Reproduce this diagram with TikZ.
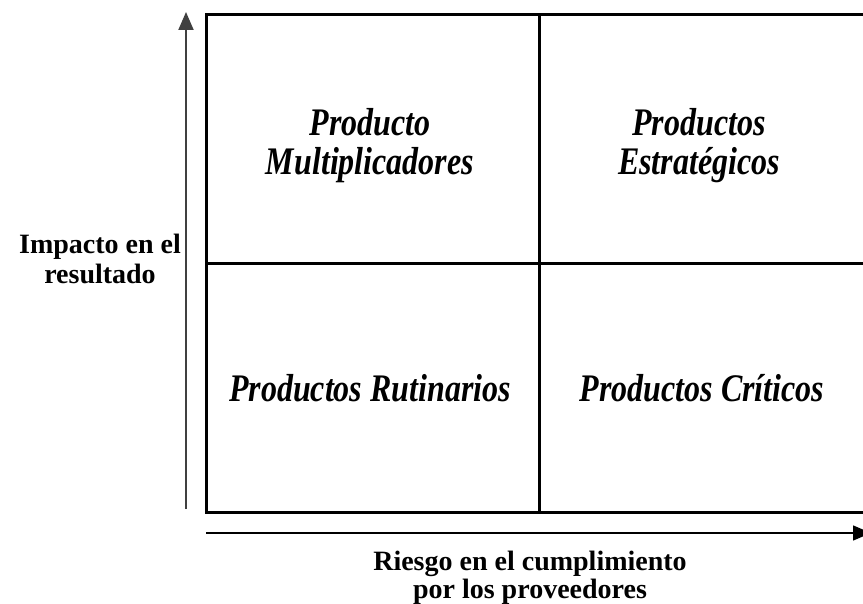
\documentclass[tikz,border=0pt]{standalone}
\usepackage{fontspec}
\setmainfont{Liberation Serif}
\usetikzlibrary{arrows.meta}
\newcommand{\qtext}[1]{\scalebox{1}[1.22]{\begin{tabular}{@{}c@{}}#1\end{tabular}}}
\begin{document}
\begin{tikzpicture}[x=1pt,y=-1pt,
  cell/.style={draw=black,line width=3pt,minimum height=249pt,inner sep=0pt,anchor=north west},
  qlabel/.style={font=\fontsize{32}{32}\selectfont\bfseries\itshape,inner sep=0pt},
  axlabel/.style={font=\fontsize{28}{30}\selectfont\bfseries,align=center,inner sep=0pt},
  axis/.style={draw=black!75,line width=2pt,-{Triangle[length=18pt,width=15pt]}}]
\useasboundingbox (0,0) rectangle (863,604);
\node[cell,minimum width=333pt] (tl) at (205,13) {};
\node[cell,minimum width=328pt] (tr) at (538,13) {};
\node[cell,minimum width=333pt] (bl) at (205,262) {};
\node[cell,minimum width=328pt] (br) at (538,262) {};
\node[qlabel] (ql1) at (370,147) {\qtext{Producto\\Multiplicadores}};
\node[qlabel] (ql2) at (699,147) {\qtext{Productos\\Estratégicos}};
\node[qlabel,anchor=base] (ql3) at (370,401) {\qtext{Productos Rutinarios}};
\node[qlabel,anchor=base] (ql4) at (702,401) {\qtext{Productos Críticos}};
\coordinate (vstart) at (186,509);
\coordinate (vend) at (186,12);
\coordinate (hstart) at (206,533);
\coordinate (hend) at (871,533);
\draw[axis] (vstart) -- (vend);
\draw[axis,draw=black,line width=1.5pt] (hstart) -- (hend);
\node[axlabel] (ylab) at (100,259) {Impacto en el\\resultado};
\node[axlabel,font=\fontsize{28}{28}\selectfont\bfseries] (xlab) at (530,578) {Riesgo en el cumplimiento\\por los proveedores};
\end{tikzpicture}
\end{document}
